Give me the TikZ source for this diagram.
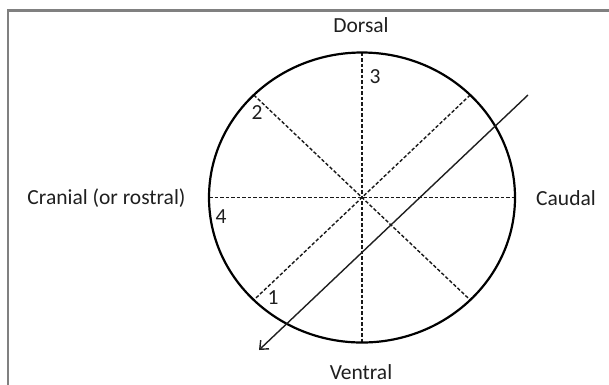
\documentclass[tikz,border=0pt]{standalone}
\usepackage{fontspec}
\setmainfont{Carlito}
\usetikzlibrary{arrows.meta,calc}
\begin{document}
\begin{tikzpicture}[x=1pt,y=-1pt,
  lbl/.style={inner sep=0pt, text=black!88, font=\fontsize{21.5}{25}\selectfont},
  axis/.style={dashed, dash pattern=on 3.5pt off 2pt, line width=1.4pt, black!90},
  outline/.style={line width=2.2pt, black},
  frameline/.style={line width=2.4pt, black!50},
  sect/.style={line width=1.4pt, black!88, -{Straight Barb[length=7pt,width=12pt,line width=1.4pt]}}]
\useasboundingbox (0,0) rectangle (609,384);
\fill[white] (0,0) rectangle (609,384);
\draw[frameline] (8,390) -- (8,10.5) -- (615,10.5);
\coordinate (O) at (362,197.5);
% axes
\coordinate (T) at (362,52.5);
\coordinate (B) at (362,342.5);
\coordinate (L) at (209,197.5);
\coordinate (R) at (515,197.5);
\coordinate (UL) at ($(O)+(-108.2,-102.5)$);
\coordinate (UR) at ($(O)+(108.2,-102.5)$);
\coordinate (LL) at ($(O)+(-108.2,102.5)$);
\coordinate (LR) at ($(O)+(108.2,102.5)$);
\draw[axis] (T) -- (B);
\draw[axis] (L) -- (R);
\draw[axis] (UL) -- (LR);
\draw[axis] (UR) -- (LL);
\draw[outline] (O) ellipse [x radius=153, y radius=145];
% section line
\coordinate (S1) at (528,95);
\coordinate (S2) at (259,350);
\draw[sect] (S1) -- (S2);
% labels
\node[lbl] (dorsal) at (361,25) {Dorsal};
\node[lbl] (ventral) at (361,372) {Ventral};
\node[lbl] (caudal) at (566,198) {Caudal};
\node[lbl] (cranial) at (106.5,198) {Cranial (or rostral)};
\node[lbl] (n3) at (375,77) {3};
\node[lbl] (n2) at (257,113) {2};
\node[lbl] (n1) at (273,298) {1};
\node[lbl] (n4) at (221,217) {4};
\end{tikzpicture}
\end{document}
